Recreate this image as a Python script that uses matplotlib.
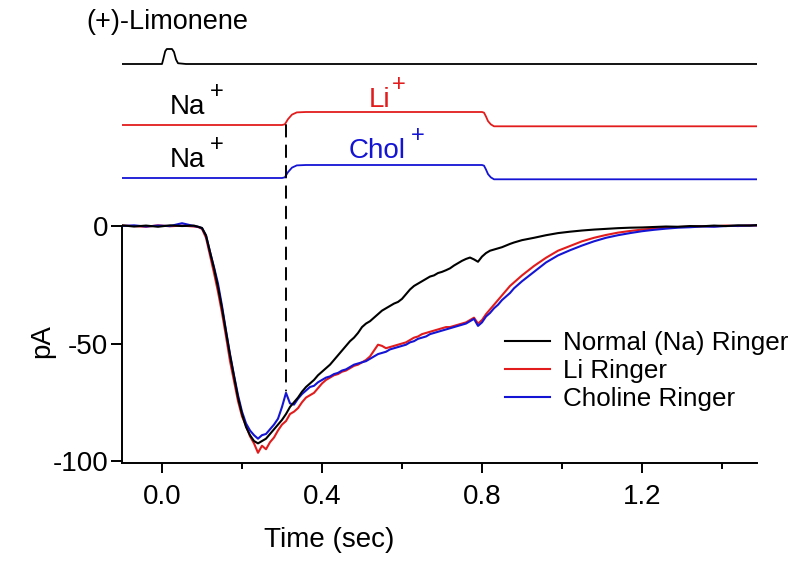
import numpy as np
import matplotlib
matplotlib.use('Agg')
import matplotlib.pyplot as plt
from matplotlib.patches import ConnectionPatch

plt.rcParams['font.family'] = ['Liberation Sans', 'DejaVu Sans']

# ---- DATA ---- #
# sampling times (sec) of the current records
t_pre = [-0.10, -0.07, -0.04, -0.01, 0.02, 0.05, 0.08]
t_mid = [0.09, 0.10, 0.11, 0.12, 0.13, 0.14, 0.15, 0.16, 0.17, 0.18,
         0.19, 0.20, 0.21, 0.22, 0.23, 0.24, 0.25, 0.26, 0.27, 0.28,
         0.29, 0.30, 0.31, 0.32, 0.33, 0.34, 0.35, 0.36, 0.37, 0.38,
         0.39, 0.40, 0.41, 0.42, 0.43, 0.44, 0.45, 0.46, 0.47, 0.48,
         0.49, 0.50, 0.51, 0.52, 0.53, 0.54, 0.55, 0.56, 0.57, 0.58,
         0.59, 0.60, 0.61, 0.62, 0.63, 0.64, 0.65, 0.66, 0.67, 0.68,
         0.69, 0.70, 0.71, 0.72, 0.73, 0.74, 0.75, 0.76, 0.77, 0.78,
         0.79, 0.80, 0.81, 0.82, 0.83, 0.84, 0.85, 0.86, 0.87, 0.88,
         0.89, 0.90]
t_post = [0.93, 0.96, 0.99, 1.02, 1.05, 1.08, 1.11, 1.14, 1.17, 1.20,
          1.23, 1.26, 1.29, 1.32, 1.35, 1.38, 1.41, 1.44, 1.47, 1.4875]
time = np.array(t_pre + t_mid + t_post)

# current (pA) - Normal (Na) Ringer
na_ringer = [0.3, -0.2, 0.2, -0.3, 0.3, 0.0, 0.2,
             -0.3, -0.8, -4, -11, -18, -26, -35, -45, -55, -64,
             -73, -80, -85.5, -89, -91.5, -92.5, -91.5, -90.5, -88.5, -86.5,
             -84.5, -82.5, -80, -77, -75, -73, -70.5, -68.5, -67, -65.5,
             -63.5, -62, -60.5, -59, -57, -55, -53, -51, -49, -47.5,
             -45.5, -43, -41.5, -40.5, -39, -37.5, -36, -35, -34, -33,
             -32.3, -31, -29, -27, -25.5, -24.5, -23.5, -22.5, -21.5, -21,
             -20, -19.5, -18.8, -18, -16.8, -15.8, -14.8, -14, -13.4, -14.2,
             -15.2, -13, -11.5, -10.5, -10, -9.5, -9, -8.3, -7.6, -7,
             -6.5, -6,
             -5, -3.9, -3, -2.4, -1.9, -1.5, -1.2, -0.9, -0.7, -0.6,
             -0.4, -0.2, -0.3, 0.0, -0.1, 0.2, 0.0, 0.3, 0.2, 0.4]

# current (pA) - Li Ringer
li_ringer = [0.2, 0.0, -0.3, 0.3, -0.1, 0.2, -0.2,
             -0.4, -1.2, -5, -12.5, -20, -28, -37, -47, -57.5, -66,
             -74.5, -81, -85, -89.5, -92.5, -96.5, -93.5, -95, -92, -90,
             -87, -84.5, -83, -80, -79, -77.5, -75, -73, -72, -71,
             -69, -67, -65.5, -64.5, -63.5, -63, -62, -61.5, -60.5, -59.5,
             -59, -58, -57, -55.5, -53, -50.5, -51, -52, -51.5, -51,
             -50.5, -50, -49.5, -48.5, -47.5, -47, -46, -45.5, -45, -44.5,
             -44, -43.5, -43, -43, -42.5, -42, -41.5, -41, -40, -39,
             -41.5, -40, -37.5, -35.5, -33.5, -31.5, -29.5, -27.5, -25.5, -24,
             -22.5, -21,
             -17, -13.5, -10.5, -8.5, -6.5, -5, -3.8, -2.8, -2.1, -1.5,
             -1.1, -0.7, -0.4, -0.3, 0.0, -0.1, 0.2, 0.0, 0.3, 0.2]

# current (pA) - Choline Ringer
chol_ringer = [0.0, 0.3, -0.2, 0.2, 0.0, 1.2, 0.0,
               -0.3, -0.9, -4, -11, -17.5, -24.5, -34, -44.5, -54.5, -63.5,
               -72, -79, -84, -87, -89, -90.5, -89, -88.5, -86.5, -84.5,
               -82, -77, -71, -75.5, -76, -73.5, -71.5, -70, -68.5, -68,
               -66.5, -65.5, -64.5, -64, -63, -62.5, -61.5, -61, -60, -59,
               -58.5, -58, -57.5, -56.5, -55.5, -54.5, -54, -53.5, -52.5, -52,
               -51.5, -51, -50.5, -49.5, -49, -48, -47.5, -47, -46, -45.5,
               -45, -44.5, -44, -43.5, -43, -42.5, -42, -41.5, -40.5, -39.5,
               -42.5, -41, -38.5, -37, -35, -33.5, -31.5, -30, -28.5, -26.5,
               -25, -23.5,
               -19.5, -15.5, -12.5, -10.3, -8.3, -6.5, -5, -3.9, -3, -2.2,
               -1.6, -1.1, -0.7, -0.5, -0.2, -0.3, 0.0, 0.1, 0.2, 0.3]

# odorant pulse monitor (relative)
stim_t = [-0.10, 0.0, 0.003, 0.008, 0.012, 0.025, 0.03, 0.035, 0.04, 0.06, 1.4875]
stim_v = [0, 0, 0.3, 0.85, 1, 1, 0.8, 0.3, 0.05, 0, 0]

# solution exchange monitor (relative)
sol_t = [-0.10, 0.30, 0.307, 0.315, 0.325, 0.337, 0.36, 0.80, 0.805,
         0.81, 0.815, 0.822, 0.83, 1.4875]
sol_v = [0, 0, 0.05, 0.45, 0.8, 0.97, 1, 1, 0.95, 0.65, 0.3, 0.05, -0.1, -0.1]

t_switch = 0.31
labels = ['Normal (Na) Ringer', 'Li Ringer', 'Choline Ringer']
xtick_vals = [0.0, 0.4, 0.8, 1.2]
xtick_lbls = ['0.0', '0.4', '0.8', '1.2']
xminor_vals = [0.2, 0.6, 1.0, 1.4]
ytick_vals = [-100, -50, 0]
ytick_lbls = ['-100', '-50', '0']

RED = '#e21c1c'
BLUE = '#1414d4'
W, H = 796, 568


def px(x, y):
    return x / W, 1 - y / H


# ---- FIGURE ---- #
fig = plt.figure(figsize=(W / 100, H / 100), dpi=100)
ax = fig.add_axes([122 / W, 1 - 463 / H, 635 / W, 244 / H])
ax_top = fig.add_axes([122 / W, 1 - 200 / H, 635 / W, 165 / H], sharex=ax)

# ---- MAIN TRACES ---- #
ax.plot(time, na_ringer, color='k', lw=1.5, label=labels[0], zorder=3)
ax.plot(time, li_ringer, color=RED, lw=1.5, label=labels[1], zorder=2)
ax.plot(time, chol_ringer, color=BLUE, lw=1.5, label=labels[2], zorder=2.5)

ax.set_xlim(-0.1, 1.4875)
ax.set_ylim(-100.85, 3)
for s in ['top', 'right']:
    ax.spines[s].set_visible(False)
ax.spines['left'].set_bounds(-100.85, 0)
for s in ['left', 'bottom']:
    ax.spines[s].set_linewidth(1.4)

ax.set_xticks(xtick_vals)
ax.set_xticklabels(xtick_lbls)
ax.set_xticks(xminor_vals, minor=True)
ax.set_yticks(ytick_vals)
ax.set_yticklabels(ytick_lbls)
ax.tick_params(axis='x', which='major', length=7, width=1.4, pad=8, labelsize=20)
ax.tick_params(axis='x', which='minor', length=4, width=1.4)
ax.tick_params(axis='y', which='major', length=8, width=1.4, pad=2, labelsize=20)

ax.set_xlabel('Time (sec)', fontsize=20, va='top')
ax.xaxis.set_label_coords((329 - 122) / 635, -(527 - 463) / 244)
ax.set_ylabel('pA', fontsize=20)
ax.yaxis.set_label_coords((55 - 122) / 635, 0.5)

ax.legend(loc='center left', bbox_to_anchor=px(505, 371),
          bbox_transform=fig.transFigure, frameon=False, fontsize=18.7,
          handlelength=1.75, handletextpad=0.5, labelspacing=0.14,
          borderpad=0, borderaxespad=0)

# ---- TOP MONITOR TRACES ---- #
stim_base, li_base, chol_base = 0, -61, -114
ax_top.plot(stim_t, stim_base + 15 * np.array(stim_v), color='k', lw=1.3)
ax_top.plot(sol_t, li_base + 13 * np.array(sol_v), color=RED, lw=1.3)
ax_top.plot(sol_t, chol_base + 13 * np.array(sol_v), color=BLUE, lw=1.3)
ax_top.set_ylim(-136, 29)
ax_top.axis('off')

# dashed marker at solution switch
con = ConnectionPatch(xyA=(t_switch, li_base), coordsA=ax_top.transData,
                      xyB=(t_switch, -70), coordsB=ax.transData,
                      color='k', lw=1.4, linestyle=(0, (6, 4.5)))
fig.add_artist(con)

# ---- LABELS ---- #
fig.text(*px(248, 29), '(+)-Limonene', fontsize=19.5, va='baseline', ha='right')
fig.text(*px(170, 114), 'Na', fontsize=20, va='baseline')
fig.text(*px(217, 98), '+', fontsize=17, va='baseline', ha='center')
fig.text(*px(170, 167), 'Na', fontsize=20, va='baseline')
fig.text(*px(217, 151), '+', fontsize=17, va='baseline', ha='center')
fig.text(*px(369, 107), 'Li', fontsize=20, va='baseline', color=RED)
fig.text(*px(399, 91), '+', fontsize=17, va='baseline', ha='center', color=RED)
fig.text(*px(349, 158), 'Chol', fontsize=20, va='baseline', color=BLUE)
fig.text(*px(418, 142), '+', fontsize=17, va='baseline', ha='center', color=BLUE)

fig.savefig('out.png', dpi=100)
